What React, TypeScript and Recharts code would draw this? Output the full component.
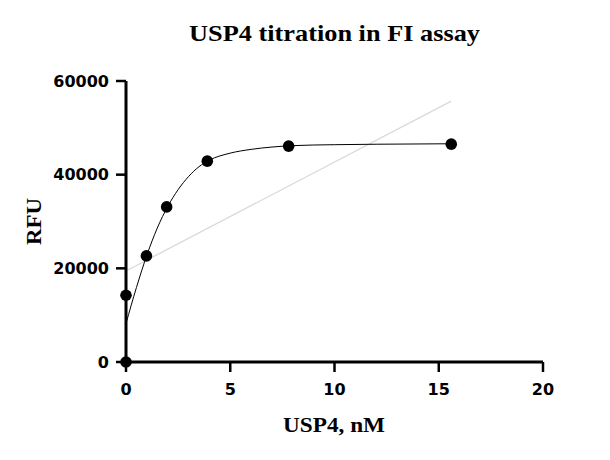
import { ComposedChart, XAxis, YAxis, Scatter, Line, Label } from "recharts";

// measured points (USP4 nM vs RFU)
const conc = [0, 0, 0.98, 1.95, 3.9, 7.8, 15.6];
const rfu = [0, 14250, 22650, 33120, 42890, 46090, 46520];

// fitted curve
const fitX = [0, 0.5, 1, 1.5, 2, 2.5, 3, 3.5, 4, 5, 6, 7, 8, 10, 12, 15.6];
const fitY = [8200, 15900, 22800, 28600, 33200, 36800, 39600, 41700, 43100, 44600, 45400, 45900, 46200, 46400, 46500, 46600];

// light grey straight line
const trendX = [0, 15.6];
const trendY = [19440, 55700];

const xTicks = [0, 5, 10, 15, 20];
const yTicks = [0, 20000, 40000, 60000];

const points = conc.map((x, i) => ({ x, y: rfu[i] }));
const fit = fitX.map((x, i) => ({ x, y: fitY[i] }));
const trend = trendX.map((x, i) => ({ x, y: trendY[i] }));

const tickFont = { fontFamily: "DejaVu Sans", fontWeight: 700, fontSize: 16, fill: "#000" };
const serif = "'Liberation Serif', 'Times New Roman', serif";

export default function App() {
  return (
    <div style={{ margin: -8, width: 610, height: 460, background: "#fff" }}>
      <ComposedChart width={610} height={460} margin={{ top: 81, right: 67, bottom: 58, left: 66 }}>
        <XAxis
          type="number"
          dataKey="x"
          domain={[0, 20]}
          ticks={xTicks}
          height={40}
          axisLine={{ stroke: "#000", strokeWidth: 3 }}
          tickLine={{ stroke: "#000", strokeWidth: 2.5 }}
          tickSize={10}
          tickMargin={12}
          tick={tickFont}
        >
          <Label
            content={() => (
              <text
                x={334}
                y={432}
                textAnchor="middle"
                textLength={102}
                lengthAdjust="spacingAndGlyphs"
                fontFamily={serif}
                fontWeight={700}
                fontSize={21.5}
                fill="#000"
              >
                USP4, nM
              </text>
            )}
          />
          <Label
            content={() => (
              <text
                x={334.5}
                y={40.5}
                textAnchor="middle"
                textLength={291}
                lengthAdjust="spacingAndGlyphs"
                fontFamily={serif}
                fontWeight={700}
                fontSize={23}
                fill="#000"
              >
                USP4 titration in FI assay
              </text>
            )}
          />
        </XAxis>
        <YAxis
          type="number"
          dataKey="y"
          domain={[0, 60000]}
          ticks={yTicks}
          width={60}
          axisLine={{ stroke: "#000", strokeWidth: 3 }}
          tickLine={{ stroke: "#000", strokeWidth: 2.5 }}
          tickSize={10}
          tickMargin={7}
          tick={tickFont}
        >
          <Label
            content={() => (
              <text
                x={41}
                y={221.5}
                transform="rotate(-90 41 221.5)"
                textAnchor="middle"
                textLength={47}
                lengthAdjust="spacingAndGlyphs"
                fontFamily={serif}
                fontWeight={700}
                fontSize={21.5}
                fill="#000"
              >
                RFU
              </text>
            )}
          />
        </YAxis>
        <Line
          data={trend}
          dataKey="y"
          type="linear"
          stroke="#d9d9d9"
          strokeWidth={1.3}
          dot={false}
          activeDot={false}
          isAnimationActive={false}
        />
        <Line
          data={fit}
          dataKey="y"
          type="monotone"
          stroke="#000"
          strokeWidth={1}
          dot={false}
          activeDot={false}
          isAnimationActive={false}
        />
        <Scatter
          data={points}
          dataKey="y"
          fill="#000"
          isAnimationActive={false}
          shape={(p: any) => <circle cx={p.cx} cy={p.cy} r={5.8} fill="#000" />}
        />
      </ComposedChart>
    </div>
  );
}
